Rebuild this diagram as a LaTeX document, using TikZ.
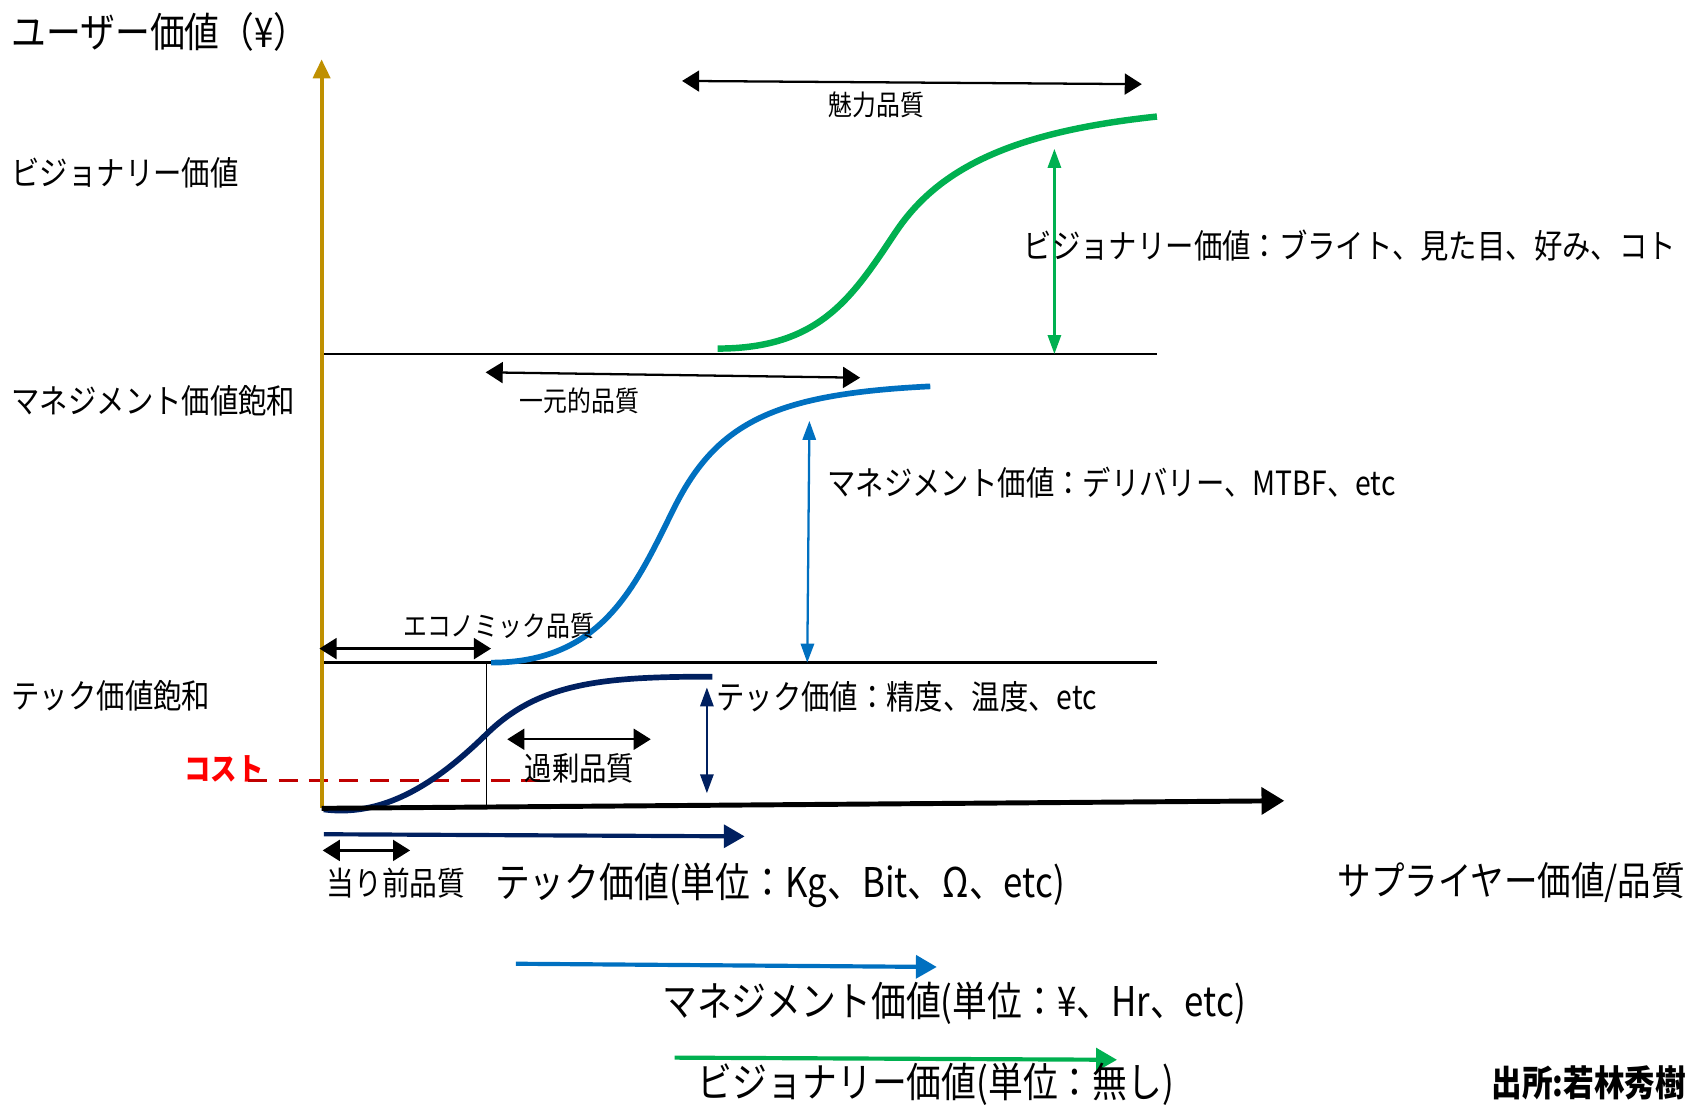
\documentclass[tikz,border=0pt]{standalone}
\usepackage{fontspec}
\setmainfont{Noto Sans CJK JP}[FakeStretch=0.85]
\usepackage{tikz}
\usetikzlibrary{positioning,arrows.meta}
\definecolor{gold}{HTML}{BF9000}
\definecolor{tech}{HTML}{002060}
\definecolor{mgmt}{HTML}{0070C0}
\definecolor{vision}{HTML}{00B050}
\definecolor{cost}{HTML}{FF0000}
\definecolor{costline}{HTML}{C00000}

\begin{document}
\begin{tikzpicture}[
    x=0.1mm, y=-0.1mm,
    axislabel/.style = {inner sep=0pt, anchor=west, font=\fontsize{8.8}{10}\selectfont},
    sidelabel/.style = {inner sep=0pt, anchor=west, font=\fontsize{8.8}{10}\selectfont},
    unitlabel/.style = {inner sep=0pt, anchor=west, font=\fontsize{10.8}{13}\selectfont},
    arrowlabel/.style = {inner sep=0pt, font=\fontsize{7.4}{9}\selectfont},
    dimarrow/.style = {line width=0.6pt, {Triangle[length=4.5pt,width=5.5pt]}-{Triangle[length=4.5pt,width=5.5pt]}},
    riserarrow/.style = {line width=0.6pt, {Triangle[length=5pt,width=3.5pt]}-{Triangle[length=5pt,width=3.5pt]}},
    unitarrow/.style = {line width=1.1pt, -{Triangle[length=5.5pt,width=6pt]}},
    gridline/.style = {line width=0.6pt},
    scurve/.style = {line width=1.5pt},
]
    \useasboundingbox (0,0) rectangle (1565,1025);

    % axes
    \coordinate (origin) at (298,749);
    \coordinate (ytop) at (298,55);
    \coordinate (xend) at (1190,742);
    \node[axislabel, font=\fontsize{10.8}{12}\selectfont] (ylabel) at (10,30) {ユーザー価値（¥）};
    \node[unitlabel, anchor=east, font=\fontsize{10.4}{12}\selectfont] (xlabel) at (1562,818) {サプライヤー価値/品質};

    % saturation levels
    \coordinate (visL) at (298,328);
    \coordinate (visR) at (1072,328);
    \coordinate (mgmtL) at (298,614);
    \coordinate (mgmtR) at (1072,614);
    \coordinate (boxtop) at (451,614);
    \coordinate (boxbot) at (451,748);
    \draw[gridline] (visL) -- (visR);
    \draw[gridline] (mgmtL) -- (mgmtR);
    \draw[line width=0.3pt] (boxtop) -- (boxbot);

    \node[axislabel] (vislevel) at (10,160) {ビジョナリー価値};
    \node[axislabel] (mgmtlevel) at (10,371) {マネジメント価値飽和};
    \node[axislabel] (techlevel) at (10,645) {テック価値飽和};

    % cost
    \node[axislabel, text=cost, font=\fontsize{8.2}{10}\selectfont\bfseries] (cost) at (170,712) {コスト};
    \coordinate (costL) at (230,723);
    \coordinate (costR) at (505,723);
    \draw[costline, line width=0.9pt, dash pattern=on 5pt off 3pt] (costL) -- (costR);

    % curves
    \draw[tech, scurve] (300,750) .. controls (360,758) and (410,720) .. (451,680)
        .. controls (500,632) and (560,627) .. (660,627);
    \draw[mgmt, scurve] (455,614) .. controls (560,614) and (590,540) .. (625,470)
        .. controls (665,390) and (720,365) .. (862,358);
    \draw[vision, scurve, line width=1.7pt] (665,323) .. controls (760,323) and (790,275) .. (830,215)
        .. controls (870,155) and (940,122) .. (1072,108);

    \draw[gold, line width=1pt, -{Triangle[length=5pt,width=4.5pt]}] (origin) -- (ytop);
    \draw[line width=1.3pt, -{Triangle[length=6pt,width=7pt]}] (origin) -- (xend);

    % quality ranges
    \coordinate (charmL) at (632,75);
    \coordinate (charmR) at (1058,78);
    \draw[dimarrow] (charmL) -- (charmR);
    \node[arrowlabel] (charm) at (812,97) {魅力品質};

    \coordinate (oneL) at (450,345);
    \coordinate (oneR) at (797,350);
    \draw[dimarrow] (oneL) -- (oneR);
    \node[arrowlabel] (onedim) at (537,371) {一元的品質};

    \coordinate (ecoL) at (296,601);
    \coordinate (ecoR) at (455,601);
    \draw[dimarrow] (ecoL) -- (ecoR);
    \node[arrowlabel] (eco) at (462,580) {エコノミック品質};

    \coordinate (overL) at (470,685);
    \coordinate (overR) at (603,685);
    \draw[dimarrow] (overL) -- (overR);
    \node[arrowlabel, font=\fontsize{8.5}{10}\selectfont] (over) at (537,712) {過剰品質};

    \coordinate (mustL) at (299,788);
    \coordinate (mustR) at (380,788);
    \draw[dimarrow] (mustL) -- (mustR);
    \node[arrowlabel, font=\fontsize{8.6}{10}\selectfont] (must) at (367,818) {当り前品質};

    % value heights
    \coordinate (visTop) at (977,138);
    \coordinate (visBot) at (977,328);
    \draw[vision, riserarrow] (visTop) -- (visBot);
    \node[sidelabel] (visdesc) at (948,228) {ビジョナリー価値：ブライト、見た目、好み、コト};

    \coordinate (mgmtTop) at (750,390);
    \coordinate (mgmtBot) at (748,614);
    \draw[mgmt, riserarrow] (mgmtTop) -- (mgmtBot);
    \node[sidelabel] (mgmtdesc) at (766,447) {マネジメント価値：デリバリー、MTBF、etc};

    \coordinate (techTop) at (655,637);
    \coordinate (techBot) at (655,735);
    \draw[tech, riserarrow] (techTop) -- (techBot);
    \node[sidelabel] (techdesc) at (663,646) {テック価値：精度、温度、etc};

    % units
    \coordinate (techS) at (300,773);
    \coordinate (techE) at (690,775);
    \draw[tech, unitarrow] (techS) -- (techE);
    \node[unitlabel] (techunit) at (458,820) {テック価値(単位：Kg、Bit、Ω、etc)};

    \coordinate (mgmtS) at (478,893);
    \coordinate (mgmtE) at (868,896);
    \draw[mgmt, unitarrow] (mgmtS) -- (mgmtE);
    \node[unitlabel] (mgmtunit) at (613,930) {マネジメント価値(単位：¥、Hr、etc)};

    \coordinate (visS) at (625,980);
    \coordinate (visE) at (1035,982);
    \draw[vision, unitarrow] (visS) -- (visE);
    \node[unitlabel] (visunit) at (646,1005) {ビジョナリー価値(単位：無し)};

    \node[inner sep=0pt, anchor=east, font=\fontsize{9.5}{11}\selectfont\bfseries] (source) at (1563,1003) {出所:若林秀樹};

\end{tikzpicture}
\end{document}
